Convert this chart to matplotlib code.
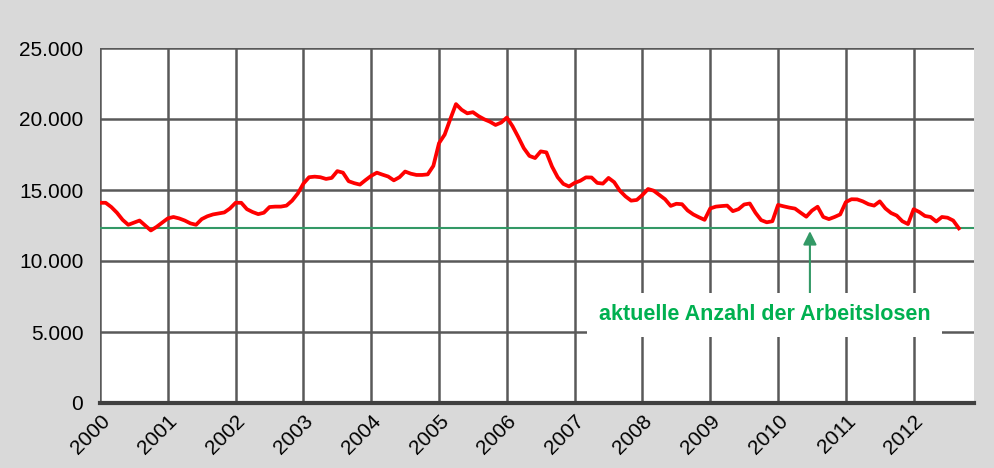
import numpy as np
import matplotlib.pyplot as plt
from matplotlib.ticker import FuncFormatter

plt.rcParams['font.family'] = ['Liberation Sans', 'DejaVu Sans']

# Arbeitslose, monatlich Jan 2000 - Sep 2012
werte = [
    14100, 14100, 13800, 13400, 12900, 12550, 12700, 12850, 12500, 12150, 12400, 12700,  # 2000
    13000, 13100, 13000, 12850, 12650, 12550, 12950, 13150, 13280, 13350, 13420, 13700,  # 2001
    14100, 14100, 13650, 13450, 13300, 13400, 13800, 13830, 13830, 13900, 14250, 14750,  # 2002
    15450, 15900, 15940, 15900, 15780, 15850, 16330, 16220, 15620, 15480, 15380, 15700,  # 2003
    16000, 16220, 16080, 15950, 15680, 15900, 16300, 16150, 16060, 16060, 16100, 16700,  # 2004
    18300, 18900, 20000, 21050, 20650, 20400, 20480, 20200, 19980, 19810, 19580, 19750,  # 2005
    20100, 19500, 18750, 17950, 17400, 17250, 17720, 17650, 16650, 15900, 15430, 15250,  # 2006
    15500, 15650, 15890, 15880, 15500, 15450, 15850, 15550, 14950, 14550, 14250, 14300,  # 2007
    14650, 15070, 14950, 14650, 14350, 13880, 14030, 14000, 13560, 13280, 13080, 12900,  # 2008
    13700, 13830, 13870, 13900, 13510, 13650, 13980, 14050, 13400, 12880, 12725, 12800,  # 2009
    13950, 13850, 13760, 13690, 13400, 13120, 13550, 13820, 13100, 12950, 13100, 13280,  # 2010
    14150, 14350, 14340, 14200, 14000, 13900, 14200, 13700, 13380, 13200, 12800, 12600,  # 2011
    13650, 13450, 13170, 13100, 12780, 13100, 13050, 12850, 12300,                       # 2012
]
jahre = list(range(2000, 2013))
aktuell = 12300
text = "aktuelle Anzahl der Arbeitslosen"

x = 2000 + np.arange(len(werte)) / 12

fig = plt.figure(figsize=(9.95, 4.68), dpi=100, facecolor='#d9d9d9')
ax = fig.add_axes([100/995, 65/468, 874/995, 355/468])
ax.set_facecolor('white')

ax.plot(x, werte, color='#ff0000', lw=2.7, zorder=4, solid_joinstyle='round')
ax.axhline(aktuell, color='#339966', lw=1.5, zorder=3)

ax.set_xlim(2000, 2012.89)
ax.set_ylim(0, 25000)
ax.set_xticks(jahre)
ax.set_yticks(range(0, 25001, 5000))
ax.yaxis.set_major_formatter(FuncFormatter(lambda v, p: f"{int(v):,}".replace(",", ".")))
ax.grid(True, color='#595959', lw=1.8, zorder=1)
ax.set_axisbelow(True)
ax.tick_params(length=0, labelsize=15, colors='black')
ax.tick_params(axis='y', pad=12)
ax.tick_params(axis='x', pad=6)
for lbl in ax.get_xticklabels():
    lbl.set_rotation(45)
    lbl.set_ha('right')
    lbl.set_va('top')
    lbl.set_rotation_mode('anchor')

for s in ['top', 'right', 'left']:
    ax.spines[s].set_visible(False)
ax.spines['bottom'].set_color('#404040')
ax.spines['bottom'].set_linewidth(3)
ax.spines['bottom'].set_zorder(5)

# Hinweis mit Pfeil
ax.annotate('', xy=(2010.47, aktuell), xytext=(2010.47, 5000),
            arrowprops=dict(arrowstyle='-|>', color='#339966', lw=1.5, mutation_scale=20),
            zorder=6)
ax.text(2009.8, 6200, text, color='#00b050', fontsize=15.5, fontweight='bold',
        ha='center', va='center', zorder=7,
        bbox=dict(boxstyle='square,pad=0.55', fc='white', ec='none'))

fig.savefig('out.png', dpi=100, facecolor=fig.get_facecolor())
